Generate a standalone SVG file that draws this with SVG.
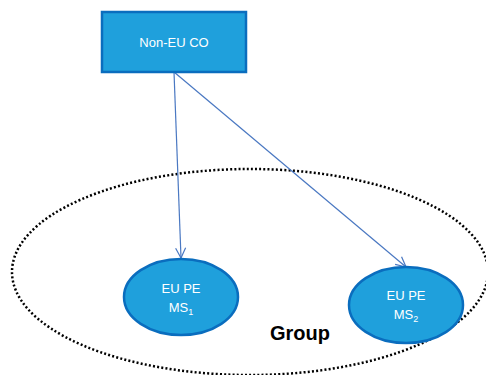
<svg xmlns="http://www.w3.org/2000/svg" width="486" height="375" viewBox="0 0 486 375">
  <style>
    .node { fill: #1FA0DC; stroke: #0A6DBE; stroke-width: 2.5; }
    .label { font-family: "Liberation Sans", Arial, sans-serif; font-size: 13px; fill: #FFFFFF; text-anchor: middle; }
    .sub { font-size: 9px; }
    .edge { stroke: #4A78C2; stroke-width: 1.2; fill: none; marker-end: url(#arrow); }
    .group { fill: none; stroke: #000000; stroke-width: 2.5; stroke-dasharray: 2 2.2; }
  </style>
  <defs>
    <marker id="arrow" viewBox="0 0 12 12" refX="11" refY="6" markerWidth="12" markerHeight="12" markerUnits="userSpaceOnUse" orient="auto">
      <path d="M1,1 L11,6 L1,11" fill="none" stroke="#4A78C2" stroke-width="1.2"/>
    </marker>
  </defs>
  <rect width="486" height="375" fill="#FFFFFF"/>

  <g id="group-boundary">
    <ellipse class="group" cx="250" cy="272" rx="238" ry="103"/>
    <text x="300" y="340" font-family="Liberation Sans, Arial, sans-serif" font-size="20" font-weight="bold" fill="#000000" text-anchor="middle">Group</text>
  </g>

  <g id="connectors">
    <line class="edge" x1="174" y1="72" x2="181" y2="258"/>
    <line class="edge" x1="174" y1="72" x2="406" y2="267"/>
  </g>

  <g id="non-eu-co">
    <rect class="node" x="102" y="12" width="144" height="60"/>
    <text class="label" x="174" y="47">Non-EU CO</text>
  </g>

  <g id="eu-pe-ms1">
    <ellipse class="node" cx="181" cy="297" rx="57" ry="38"/>
    <text class="label" x="181" y="293">EU PE</text>
    <text class="label" x="181" y="312">MS<tspan class="sub" dy="3">1</tspan></text>
  </g>

  <g id="eu-pe-ms2">
    <ellipse class="node" cx="406" cy="305" rx="57" ry="38"/>
    <text class="label" x="406" y="300">EU PE</text>
    <text class="label" x="406" y="319">MS<tspan class="sub" dy="3">2</tspan></text>
  </g>
</svg>
